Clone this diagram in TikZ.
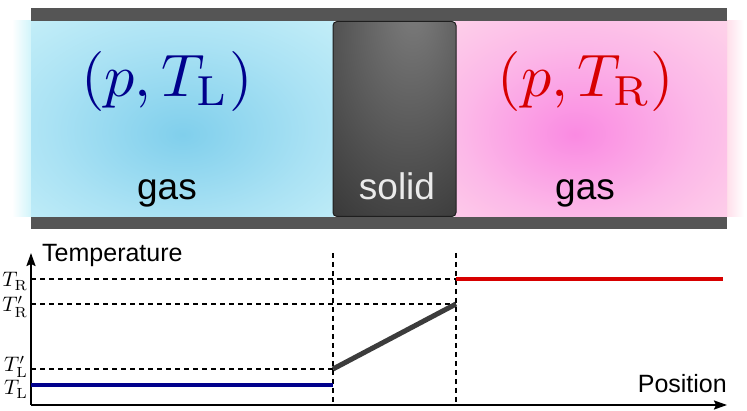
\documentclass[tikz,border=0pt]{standalone}
\usepackage{fontspec}
\setsansfont{Liberation Sans}
\usetikzlibrary{arrows.meta}
\definecolor{barc}{RGB}{85,85,85}
\definecolor{bcen}{RGB}{128,207,236}
\definecolor{bmid}{RGB}{170,226,244}
\definecolor{bedge}{RGB}{208,244,250}
\definecolor{pcen}{RGB}{250,138,226}
\definecolor{pmid}{RGB}{252,185,232}
\definecolor{pedge}{RGB}{255,222,234}
\definecolor{shi}{RGB}{125,125,125}
\definecolor{slo}{RGB}{45,45,45}
\definecolor{sborder}{RGB}{30,30,30}
\definecolor{navyc}{RGB}{0,0,140}
\definecolor{redc}{RGB}{215,0,0}
\definecolor{slopec}{RGB}{60,60,60}
\pgfdeclareradialshading{blueglow}{\pgfpoint{0bp}{-4bp}}{color(0bp)=(bcen); color(22bp)=(bmid); color(45bp)=(bedge); color(70bp)=(bedge)}
\pgfdeclareradialshading{pinkglow}{\pgfpoint{-3bp}{-4bp}}{color(0bp)=(pcen); color(22bp)=(pmid); color(45bp)=(pedge); color(70bp)=(pedge)}
\pgfdeclareradialshading{solidshade}{\pgfpoint{8bp}{30bp}}{color(0bp)=(shi); color(55bp)=(slo); color(80bp)=(slo)}
\newcommand{\mybigmath}[1]{\scalebox{6}{$#1$}}
\newcommand{\mytickmath}[1]{\scalebox{2.1}{$#1$}}
\tikzset{
  bar/.style={fill=barc, draw=none},
  dashline/.style={line width=1.4pt, dash pattern=on 5pt off 4pt},
  axisline/.style={line width=2pt, -{Stealth[length=13pt,width=9pt,inset=2pt]}},
  bigmath/.style={inner sep=0pt},
  gaslabel/.style={font=\sffamily\fontsize{37}{42}\selectfont, inner sep=0pt},
  axlabel/.style={font=\sffamily\fontsize{25}{30}\selectfont, inner sep=0pt},
  tlabel/.style={inner sep=0pt, anchor=base east},
  curve/.style={line width=4pt}
}
\begin{document}
\begin{tikzpicture}[x=1pt,y=-1pt]
\useasboundingbox (0,0) rectangle (747,411);
% gas regions
\shade[left color=white, right color=bedge] (12,21) rectangle (31.5,217);
\shade[shading=blueglow] (31,21) rectangle (334,217);
\shade[left color=pedge, right color=white] (726.5,21) rectangle (744,217);
\shade[shading=pinkglow] (455,21) rectangle (727,217);
% bars
\fill[bar] (31,8) rectangle (727,21);
\fill[bar] (31,217) rectangle (727,229.5);
% solid
\path[draw=sborder, line width=1pt, rounded corners=4pt, shading=solidshade] (333,21.5) rectangle (456,216.5);
% texts
\node[bigmath, text=navyc, anchor=base] (pl) at (167,97) {\mybigmath{(p,T_{\mathrm{L}})}};
\node[bigmath, text=redc, anchor=base] (pr) at (586,97) {\mybigmath{(p,T_{\mathrm{R}})}};
\node[gaslabel, anchor=base] (gl) at (167,200) {gas};
\node[gaslabel, anchor=base] (gr) at (585,200) {gas};
\node[gaslabel, anchor=base, text=white!92!black] (sl) at (397,200) {solid};
% axes
\coordinate (O) at (31,405);
\coordinate (ytip) at (31,253);
\coordinate (xtip) at (727,405);
\draw[axisline] (O) -- (ytip);
\draw[axisline] (O) -- (xtip);
\node[axlabel, anchor=base west] (temp) at (42,262) {Temperature};
\node[axlabel, anchor=base east] (pos) at (727,393) {Position};
% key points
\coordinate (vA) at (333,253);
\coordinate (vAb) at (333,405);
\coordinate (vB) at (456,253);
\coordinate (vBb) at (456,405);
\coordinate (yR) at (31,279);
\coordinate (yRp) at (31,304);
\coordinate (yLp) at (31,369);
\coordinate (yL) at (31,385);
\coordinate (pR) at (456,279);
\coordinate (pRp) at (456,304);
\coordinate (pLp) at (333,369);
\coordinate (pL) at (333,385);
\coordinate (endR) at (723,279);
\draw[dashline] (vA) -- (vAb);
\draw[dashline] (vB) -- (vBb);
\draw[dashline] (yR) -- (pR);
\draw[dashline] (yRp) -- (pRp);
\draw[dashline] (yLp) -- (pLp);
\draw[curve, draw=navyc] (yL) -- (pL);
\draw[curve, draw=redc] (pR) -- (endR);
\draw[curve, draw=slopec, line width=5pt] (pLp) -- (pRp);
% tick labels
\node[tlabel] (tR) at (28,287) {\mytickmath{T_{\mathrm{R}}}};
\node[tlabel] (tRp) at (28,312) {\mytickmath{T_{\mathrm{R}}'}};
\node[tlabel] (tLp) at (28,372) {\mytickmath{T_{\mathrm{L}}'}};
\node[tlabel] (tL) at (28,395) {\mytickmath{T_{\mathrm{L}}}};
\end{tikzpicture}
\end{document}
